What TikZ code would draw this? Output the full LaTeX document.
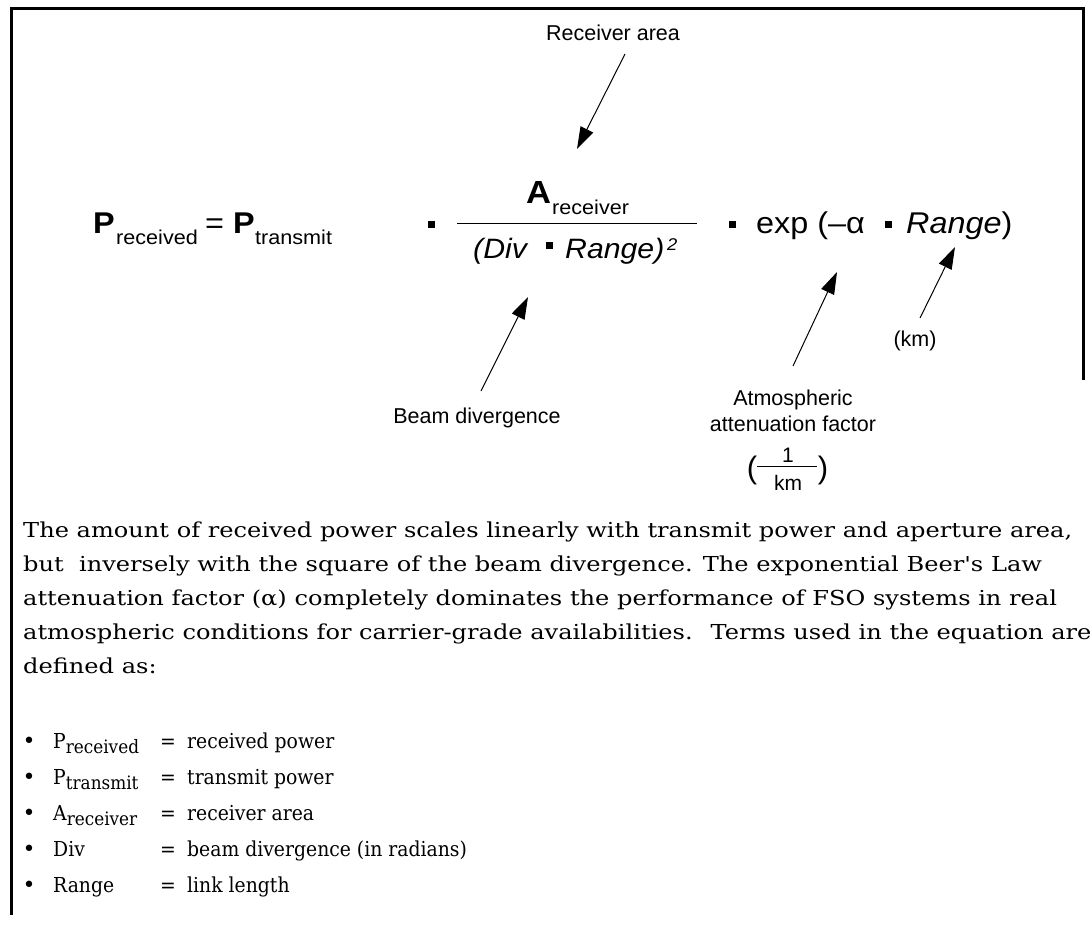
\documentclass[tikz,border=0pt]{standalone}
\usepackage{fontspec}
\usepackage{graphicx}
\usetikzlibrary{arrows.meta}
\newfontfamily\eqf[FakeStretch=1.08]{Liberation Sans}
\newfontfamily\labf{Liberation Sans}
\newfontfamily\bodyf{DejaVu Serif}
\newcommand\fs[1]{\fontsize{#1}{#1}\selectfont}
\newsavebox\lineonebox
\newlength\Lone
\newcommand\bx[1]{\scalebox{\bsx}[1]{#1}}
\newcommand\bxb[1]{\scalebox{\bsxb}[1]{#1}}
\newcommand\sbs[1]{\raisebox{-5pt}{\fs{18.5}#1}}
\begin{document}
\sbox\lineonebox{\bodyf\fs{20.6}The amount of received power scales linearly with transmit power and aperture area,}%
\setlength\Lone{\wd\lineonebox}%
\pgfmathsetmacro\bsx{1049/\Lone}%
\pgfmathsetmacro\bsxb{0.78*\bsx}%
\begin{tikzpicture}[x=1pt,y=-1pt,
  eq/.style={inner sep=0pt, anchor=base west, font=\eqf},
  lab/.style={inner sep=0pt, anchor=base, font=\labf\fs{21.5}},
  body/.style={inner sep=0pt, anchor=base west, font=\bodyf\fs{20.6}},
  arr/.style={line width=1pt, -{Triangle[length=22pt,width=14pt]}},
  dotsq/.style={fill=black, inner sep=0pt, minimum size=7pt, draw=none, shape=rectangle}
]
\useasboundingbox (0,0) rectangle (1090,926);

% frame
\draw[line width=3pt] (11,915) -- (11,8) -- (1083,8) -- (1083,380);

% equation
\node[eq, font=\eqf\bfseries\fs{30}] (P1) at (93,233) {P};
\node[eq, font=\eqf\fs{20}] (P1s) at (116,244) {received};
\node[eq, font=\eqf\fs{30}] (eqs) at (205,233) {=};
\node[eq, font=\eqf\bfseries\fs{30}] (P2) at (233,233) {P};
\node[eq, font=\eqf\fs{20}] (P2s) at (255,244) {transmit};
\node[dotsq] (d1) at (431,224.5) {};
\draw[line width=1pt] (457,223) -- (697,223);
\node[eq, font=\eqf\bfseries\fs{32}] (A) at (526,203) {A};
\node[eq, font=\eqf\fs{20}] (As) at (552,214) {receiver};
\node[eq, font=\eqf\itshape\fs{28}] (div) at (473,258) {(Div};
\node[dotsq] (d4) at (549,245) {};
\node[eq, font=\eqf\itshape\fs{28}] (rng1) at (565,258) {Range)};
\node[eq, font=\eqf\itshape\fs{17}] (sq) at (667,250) {2};
\node[dotsq] (d2) at (732.5,224.5) {};
\node[eq, font=\eqf\fs{30}] (exp) at (756,233) {exp (–α};
\node[dotsq] (d3) at (888,224.5) {};
\node[eq, font=\eqf\fs{30}] (rng2) at (906,233) {\textit{Range})};

% labels
\node[lab] (ra) at (613,40) {Receiver area};
\node[lab] (bd) at (477,423) {Beam divergence};
\node[lab, align=center, font=\labf\fontsize{21.5}{26}\selectfont] (atm) at (793,431) {Atmospheric\\attenuation factor};
\node[lab] (km) at (915,346) {(km)};
\node[lab, font=\labf\fs{31}] (lp) at (752,478) {(};
\node[lab, font=\labf\fs{31}] (rp) at (823,478) {)};
\node[lab, font=\labf\fs{21}] (one) at (788,462) {1};
\node[lab, font=\labf\fs{21}] (kmd) at (788,490) {km};
\draw[line width=0.8pt] (757,466) -- (817,466);

% arrows
\coordinate (raT) at (625,54);   \coordinate (raH) at (577,149);
\coordinate (bdT) at (481,391);  \coordinate (bdH) at (528,297);
\coordinate (atT) at (793,366);  \coordinate (atH) at (837,272);
\coordinate (kmT) at (920,318);  \coordinate (kmH) at (955,247);
\draw[arr] (raT) -- (raH);
\draw[arr] (bdT) -- (bdH);
\draw[arr] (atT) -- (atH);
\draw[arr] (kmT) -- (kmH);

% paragraph
\node[body] (l1) at (23,537) {\bx{The amount of received power scales linearly with transmit power and aperture area,}};
\node[body] (l2) at (23,571) {\bx{but~ inversely with the square of the beam divergence. The exponential Beer\textquotesingle s Law}};
\node[body] (l3) at (23,605) {\bx{attenuation factor (α) completely dominates the performance of FSO systems in real}};
\node[body] (l4) at (23,639) {\bx{atmospheric conditions for carrier-grade availabilities.~ Terms used in the equation are}};
\node[body] (l5) at (23,673) {\bx{defined as:}};

% bullets
\foreach \y/\t/\d [count=\i] in {748/P\sbs{received}/received power,
  784/P\sbs{transmit}/transmit power,
  820/A\sbs{receiver}/receiver area,
  856/Div/beam divergence (in radians),
  892/Range/link length}{
  \node[body, anchor=base, font=\bodyf\fs{22}] (b\i) at (29,\y) {\textbullet};
  \node[body] (t\i) at (53,\y) {\bxb{\t}};
  \node[body] (e\i) at (160,\y) {\bxb{=}};
  \node[body] (v\i) at (187,\y) {\bxb{\d}};
}
\end{tikzpicture}
\end{document}
